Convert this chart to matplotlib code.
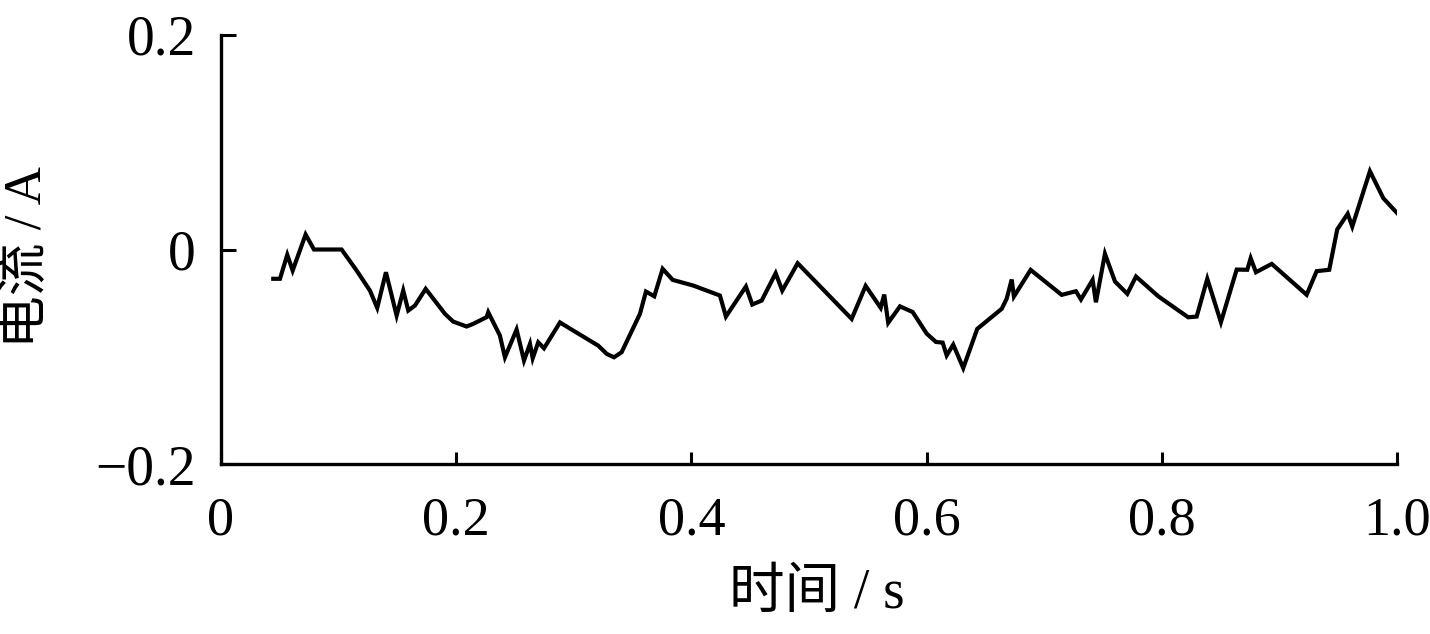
import numpy as np
import matplotlib
matplotlib.use("Agg")
import matplotlib.pyplot as plt

plt.rcParams['font.family'] = ['Liberation Serif', 'Noto Sans CJK SC']
plt.rcParams['axes.unicode_minus'] = True

# 时间 (s) 与 电流 (A)
time_s = [0.0445, 0.0502, 0.0564, 0.0610, 0.0720, 0.0791, 0.1026, 0.1154, 0.1267, 0.1329,
          0.1403, 0.1494, 0.1550, 0.1593, 0.1650, 0.1741, 0.1905, 0.1975, 0.2089, 0.2145,
          0.2259, 0.2273, 0.2372, 0.2415, 0.2514, 0.2577, 0.2628, 0.2651, 0.2698, 0.2747,
          0.2883, 0.2996, 0.3208, 0.3280, 0.3342, 0.3407, 0.3563, 0.3614, 0.3685, 0.3756,
          0.3841, 0.4016, 0.4243, 0.4294, 0.4464, 0.4518, 0.4598, 0.4717, 0.4773, 0.4904,
          0.5363, 0.5482, 0.5610, 0.5640, 0.5674, 0.5774, 0.5882, 0.6001, 0.6080, 0.6137,
          0.6171, 0.6227, 0.6312, 0.6431, 0.6639, 0.6681, 0.6724, 0.6743, 0.6885, 0.7149,
          0.7270, 0.7313, 0.7412, 0.7440, 0.7517, 0.7602, 0.7707, 0.7781, 0.7970, 0.8225,
          0.8297, 0.8387, 0.8503, 0.8637, 0.8727, 0.8756, 0.8801, 0.8935, 0.9232, 0.9317,
          0.9424, 0.9492, 0.9581, 0.9620, 0.9770, 0.9884, 1.0000]
current_a = [-0.0273, -0.0273, -0.0049, -0.0196, 0.0140, 0.0000, 0.0000, -0.0196, -0.0383, -0.0544,
             -0.0212, -0.0616, -0.0383, -0.0569, -0.0522, -0.0367, -0.0600, -0.0672, -0.0718, -0.0693,
             -0.0631, -0.0585, -0.0802, -0.1005, -0.0746, -0.1035, -0.0880, -0.1014, -0.0865, -0.0921,
             -0.0680, -0.0756, -0.0896, -0.0973, -0.1005, -0.0958, -0.0600, -0.0392, -0.0436, -0.0180,
             -0.0283, -0.0336, -0.0429, -0.0625, -0.0345, -0.0513, -0.0476, -0.0221, -0.0383, -0.0128,
             -0.0647, -0.0339, -0.0544, -0.0420, -0.0683, -0.0530, -0.0583, -0.0784, -0.0862, -0.0868,
             -0.0987, -0.0887, -0.1105, -0.0740, -0.0553, -0.0460, -0.0280, -0.0438, -0.0190, -0.0423,
             -0.0389, -0.0466, -0.0283, -0.0492, -0.0040, -0.0298, -0.0413, -0.0252, -0.0436, -0.0632,
             -0.0625, -0.0273, -0.0678, -0.0187, -0.0189, -0.0081, -0.0212, -0.0134, -0.0422, -0.0202,
             -0.0189, 0.0187, 0.0333, 0.0214, 0.0730, 0.0478, 0.0341]

x_ticks = [0, 0.2, 0.4, 0.6, 0.8, 1.0]
x_ticklabels = ['0', '0.2', '0.4', '0.6', '0.8', '1.0']
y_ticks = [-0.2, 0, 0.2]
y_ticklabels = ['\u22120.2', '0', '0.2']

fig = plt.figure(figsize=(14.3, 6.34), dpi=100)
ax = fig.add_axes([0.1545, 0.2681, 0.8224, 0.6767])

ax.plot(time_s, current_a, color='black', linewidth=3.0, solid_joinstyle='miter')

ax.set_xlim(0, 1.0)
ax.set_ylim(-0.2, 0.2)
ax.set_xticks(x_ticks)
ax.set_xticklabels(x_ticklabels)
ax.set_yticks(y_ticks)
ax.set_yticklabels(y_ticklabels)

for side in ['top', 'right']:
    ax.spines[side].set_visible(False)
for side in ['left', 'bottom']:
    ax.spines[side].set_linewidth(2.4)

ax.tick_params(axis='x', direction='in', length=9, width=2.2, labelsize=39, pad=23)
ax.tick_params(axis='y', direction='in', length=11, width=2.2, labelsize=40, pad=18)

ax.set_xlabel('时间 / s', fontsize=40, va='center')
ax.set_ylabel('电流 / A', fontsize=38, va='center')
ax.xaxis.set_label_coords(0.507, -0.303)
ax.yaxis.set_label_coords(-0.164, 0.4825)

fig.savefig('out.png', dpi=100)
